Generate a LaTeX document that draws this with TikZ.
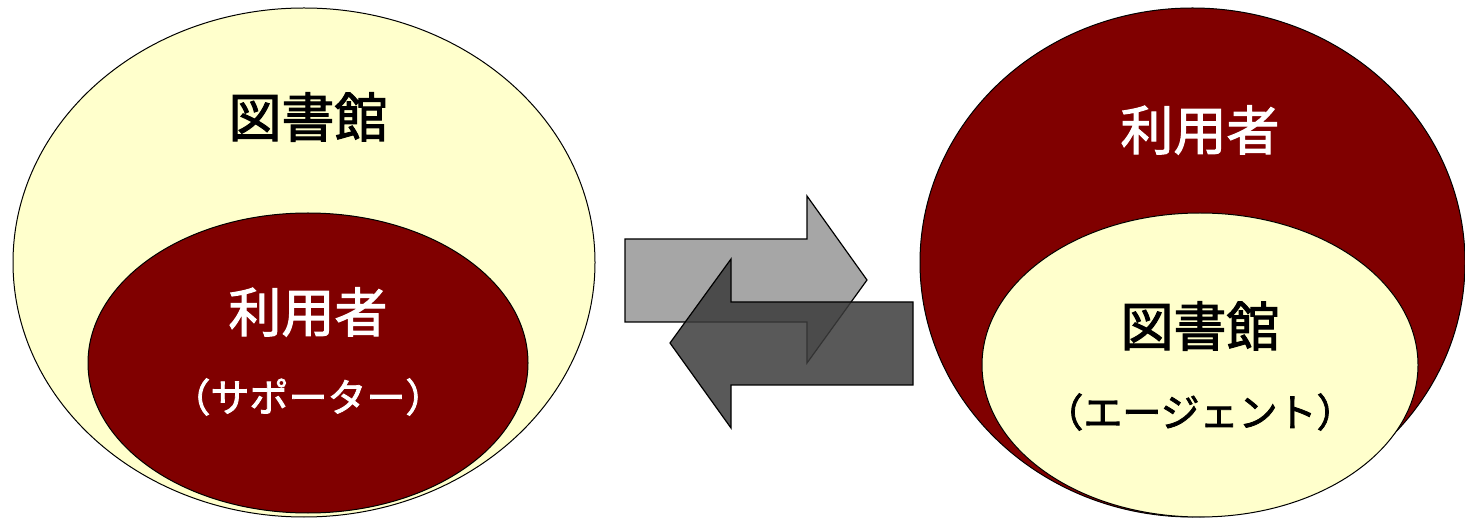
\documentclass[tikz,border=0pt]{standalone}
\usepackage{fontspec}
\newfontfamily\cjk[FakeBold=2]{Noto Sans CJK JP}
\usetikzlibrary{shapes.geometric}
\definecolor{maroon}{HTML}{800000}
\definecolor{cream}{HTML}{FFFFCC}
\definecolor{lightarrow}{HTML}{A6A6A6}
\definecolor{darkarrow}{HTML}{3C3C3C}
\begin{document}
\begin{tikzpicture}[x=1pt,y=-1pt,
  oval/.style={ellipse, draw=black, line width=1pt, inner sep=0pt},
  bigtxt/.style={font=\cjk\fontsize{53}{60}\selectfont, inner sep=0pt},
  smalltxt/.style={font=\cjk\fontsize{39}{44}\selectfont, inner sep=0pt},
  arrowshape/.style={draw=black, line width=1.2pt, line join=miter}]
\useasboundingbox (0,0) rectangle (1465,518);
% left diagram
\node[oval, fill=cream, minimum width=582pt, minimum height=509pt] (louter) at (304,262.5) {};
\node[oval, fill=maroon, minimum width=440pt, minimum height=300pt] (linner) at (308,363) {};
\node[bigtxt, text=black] (llib) at (308,117) {図書館};
\node[bigtxt, text=white] (luser) at (308,312) {利用者};
\node[smalltxt, text=white] (lsup) at (308,397) {（サポーター）};
% right diagram
\node[oval, fill=maroon, minimum width=545pt, minimum height=509pt] (router) at (1192.5,262.5) {};
\node[oval, fill=cream, minimum width=436pt, minimum height=304pt] (rinner) at (1200,365) {};
\node[bigtxt, text=white] (ruser) at (1200,130) {利用者};
\node[bigtxt, text=black] (rlib) at (1200,326) {図書館};
\node[smalltxt, text=black] (ragent) at (1200,412) {（エージェント）};
% arrows
\draw[arrowshape, fill=lightarrow] (625,239) -- (807,239) -- (807,196) -- (867,280) -- (807,363) -- (807,322) -- (625,322) -- cycle;
\draw[arrowshape, fill=darkarrow, fill opacity=0.85] (913,302) -- (731,302) -- (731,259) -- (670,343) -- (731,428) -- (731,385) -- (913,385) -- cycle;
\end{tikzpicture}
\end{document}
